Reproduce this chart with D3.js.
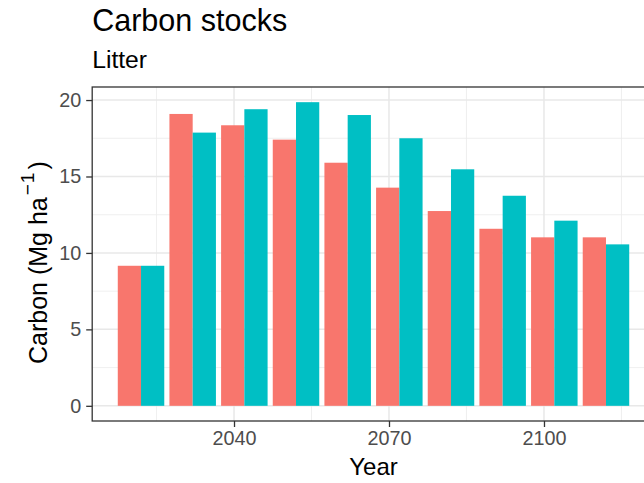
<!DOCTYPE html>
<html>
<head>
<meta charset="utf-8">
<script src="https://cdn.jsdelivr.net/npm/d3@7"></script>
<style>
  html, body { margin: 0; padding: 0; background: #fff; }
  svg { display: block; font-family: "Liberation Sans", Arial, sans-serif; }
</style>
</head>
<body>
<div id="chart"></div>
<script>
// ---- data ----
const years = [2022, 2032, 2042, 2052, 2062, 2072, 2082, 2092, 2102, 2112];
const seriesNames = ["Series 1", "Series 2"];
const series1 = [9.16, 19.09, 18.35, 17.41, 15.90, 14.27, 12.74, 11.58, 11.02, 11.02];
const series2 = [9.16, 17.87, 19.40, 19.86, 19.02, 17.50, 15.47, 13.74, 12.11, 10.56];
const xTicks = [2040, 2070, 2100];
const xMinorTicks = [2025, 2055, 2085, 2115];
const yTicks = [0, 5, 10, 15, 20];
const yMinorTicks = [2.5, 7.5, 12.5, 17.5];
const colors = ["#F8766D", "#00BFC4"];
const title = "Carbon stocks";
const subtitle = "Litter";
const xTitle = "Year";

const W = 644, H = 483;
const margin = { left: 92.2, right: -10.8, top: 87, bottom: 62 };
const panelL = margin.left, panelR = W - margin.right, panelT = margin.top, panelB = H - margin.bottom;

const svg = d3.select("#chart").append("svg").attr("width", W).attr("height", H);

// x scale (continuous years), with ggplot-like expansion
const barW = 9; // years
const xmin = d3.min(years) - barW / 2, xmax = d3.max(years) + barW / 2;
const xexp = (xmax - xmin) * 0.05;
const x = d3.scaleLinear().domain([xmin - xexp, xmax + xexp]).range([panelL, panelR]);

const ymax = d3.max([...series1, ...series2]);
const yexp = ymax * 0.05;
const y = d3.scaleLinear().domain([-yexp, ymax + yexp]).range([panelB, panelT]);

// grid
const g = svg.append("g");
g.selectAll(".ymin").data(yMinorTicks).join("line")
  .attr("x1", panelL).attr("x2", panelR).attr("y1", d => y(d)).attr("y2", d => y(d))
  .attr("stroke", "#EBEBEB").attr("stroke-width", 0.8);
g.selectAll(".xmin").data(xMinorTicks).join("line")
  .attr("x1", d => x(d)).attr("x2", d => x(d)).attr("y1", panelT).attr("y2", panelB)
  .attr("stroke", "#EBEBEB").attr("stroke-width", 0.8);
g.selectAll(".ymaj").data(yTicks).join("line")
  .attr("x1", panelL).attr("x2", panelR).attr("y1", d => y(d)).attr("y2", d => y(d))
  .attr("stroke", "#E8E8E8").attr("stroke-width", 1.5);
g.selectAll(".xmaj").data(xTicks).join("line")
  .attr("x1", d => x(d)).attr("x2", d => x(d)).attr("y1", panelT).attr("y2", panelB)
  .attr("stroke", "#E8E8E8").attr("stroke-width", 1.5);

// bars (dodged)
const data = [];
years.forEach((yr, i) => {
  data.push({ year: yr, s: 0, v: series1[i] });
  data.push({ year: yr, s: 1, v: series2[i] });
});
svg.append("g").selectAll("rect").data(data).join("rect")
  .attr("x", d => x(d.year - barW / 2 + d.s * barW / 2))
  .attr("width", d => x(d.year + barW / 2) - x(d.year))
  .attr("y", d => y(d.v))
  .attr("height", d => y(0) - y(d.v))
  .attr("fill", d => colors[d.s]);

// panel border
svg.append("rect").attr("x", panelL).attr("y", panelT)
  .attr("width", panelR - panelL).attr("height", panelB - panelT)
  .attr("fill", "none").attr("stroke", "#333333").attr("stroke-width", 1.3);

// axes
const xAxis = d3.axisBottom(x).tickValues(xTicks).tickSize(6).tickPadding(4).tickFormat(d3.format("d"));
const xa = svg.append("g").attr("transform", `translate(0,${panelB})`).call(xAxis);
xa.select(".domain").remove();
xa.selectAll("line").attr("stroke", "#333333").attr("stroke-width", 1.3);
xa.selectAll("text").attr("fill", "#4D4D4D").style("font-size", "19.8px")
  .style("font-family", "'Liberation Sans', Arial, sans-serif");

const yAxis = d3.axisLeft(y).tickValues(yTicks).tickSize(6).tickPadding(5);
const ya = svg.append("g").attr("transform", `translate(${panelL},0)`).call(yAxis);
ya.select(".domain").remove();
ya.selectAll("line").attr("stroke", "#333333").attr("stroke-width", 1.3);
ya.selectAll("text").attr("fill", "#4D4D4D").style("font-size", "19.8px")
  .style("font-family", "'Liberation Sans', Arial, sans-serif");

// titles
svg.append("text").attr("x", panelL).attr("y", 31).text(title)
  .style("font-size", "30.5px").attr("fill", "#000");
svg.append("text").attr("x", panelL).attr("y", 68).text(subtitle)
  .style("font-size", "24.7px").attr("fill", "#000");
svg.append("text").attr("x", (panelL + panelR) / 2).attr("y", 475).attr("text-anchor", "middle")
  .text(xTitle).style("font-size", "24px").attr("fill", "#000");

const yt = svg.append("text")
  .attr("transform", `translate(46.5,364) rotate(-90)`)
  .attr("text-anchor", "start").style("font-size", "25px").attr("fill", "#000");
yt.append("tspan").text("Carbon (Mg ha");
yt.append("tspan").text("\u2212").attr("dx", 2).attr("dy", -13).style("font-size", "19px");
yt.append("tspan").text("1").attr("dx", 1).style("font-size", "19px");
yt.append("tspan").text(")").attr("dx", 3).attr("dy", 13);
</script>
</body>
</html>
